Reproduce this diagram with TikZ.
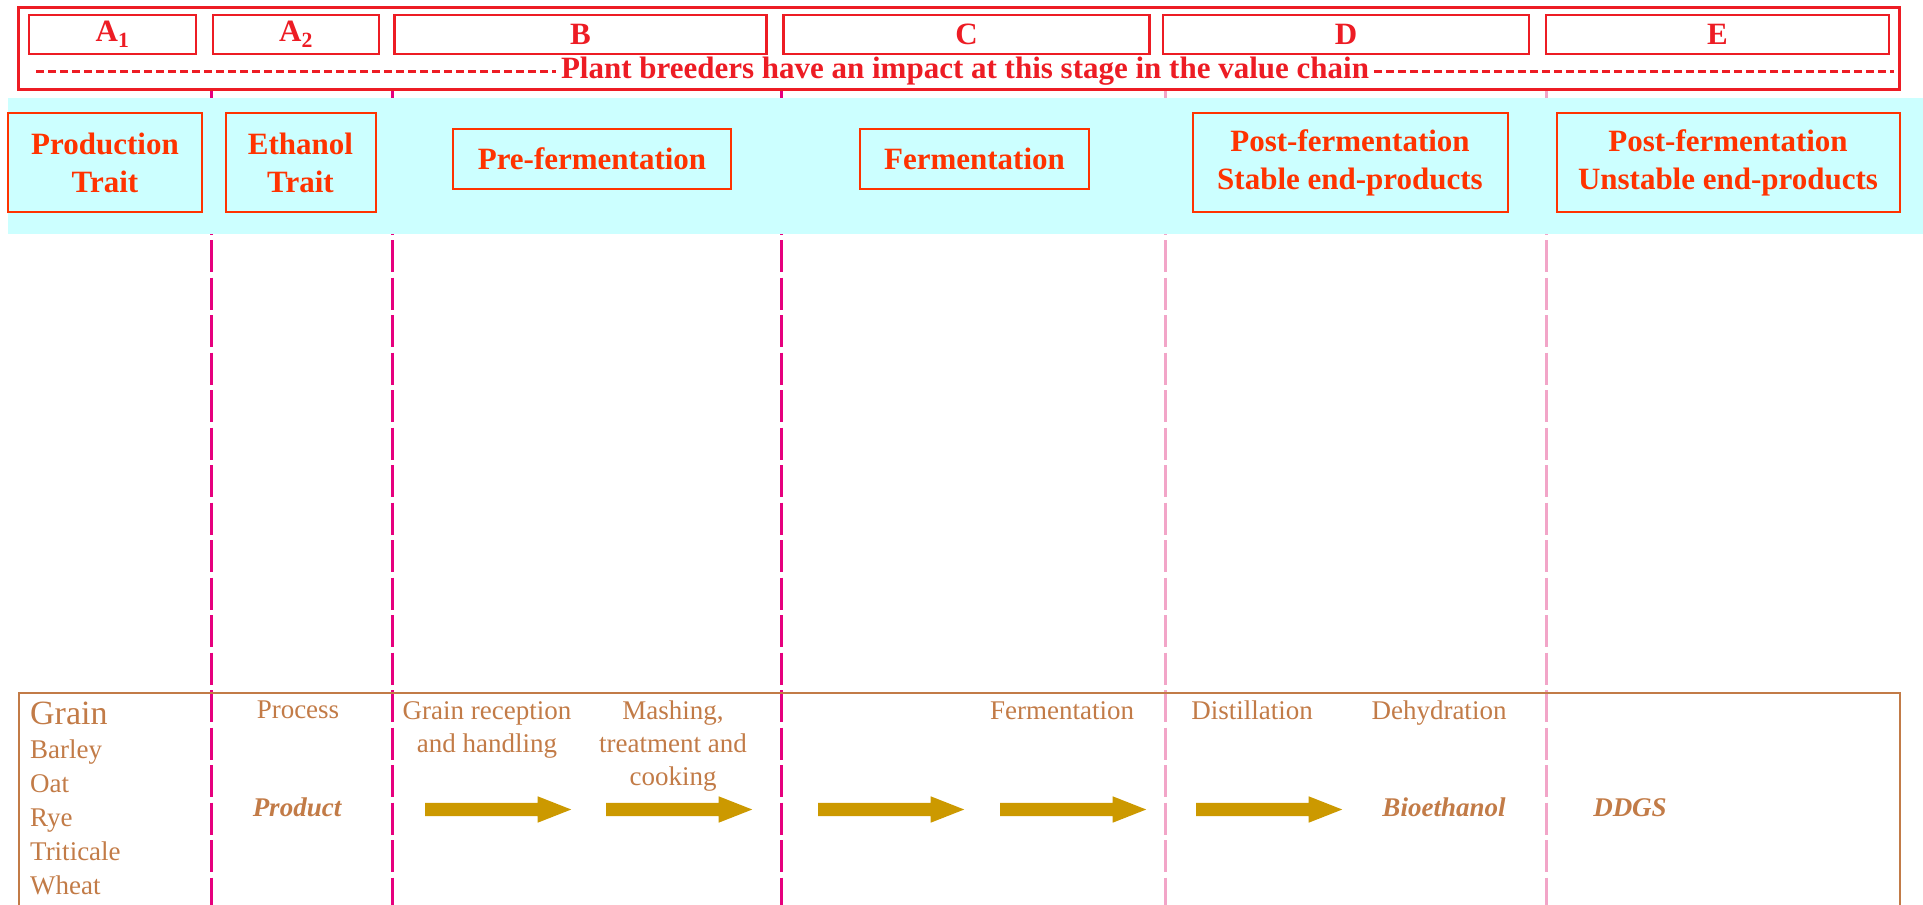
\documentclass[tikz,border=0pt]{standalone}
\usepackage{fontspec}
\setmainfont{Liberation Serif}
\usepackage{xcolor}
\usepackage{tikz}
\usetikzlibrary{shapes,shapes.arrows,arrows.meta,positioning,calc}
\definecolor{HeadRed}{HTML}{ED1C24}
\definecolor{StageRed}{HTML}{FF3300}
\definecolor{BandCyan}{HTML}{CCFFFF}
\definecolor{ChainMagenta}{HTML}{E6007E}
\definecolor{ChainPink}{HTML}{F2A5C8}
\definecolor{ProcBrown}{HTML}{C27B47}
\definecolor{FlowGold}{HTML}{CC9900}

\tikzset{
    letterbox/.style={draw=HeadRed,line width=2.5pt,text=HeadRed,inner sep=0pt,
      font=\fontsize{31}{36}\selectfont\bfseries,minimum height=39pt},
    stagebox/.style={draw=StageRed,line width=2pt,text=StageRed,align=center,inner sep=0pt,
      font=\fontsize{31}{38}\selectfont\bfseries},
    proctext/.style={text=ProcBrown,align=center,inner sep=0pt,anchor=north,
      font=\fontsize{27}{33}\selectfont},
    prodtext/.style={text=ProcBrown,inner sep=0pt,anchor=base,
      font=\fontsize{27}{33}\selectfont\bfseries\itshape},
    flowarrow/.style={single arrow,fill=FlowGold,inner xsep=0pt,inner ysep=6.5pt,anchor=tail,
      minimum height=146pt,single arrow head extend=6.5pt,single arrow tip angle=43},
    sepline/.style={line width=3pt,dash pattern=on 32pt off 5.5pt}
}

\begin{document}
\begin{tikzpicture}[x=1pt,y=-1pt]
    \useasboundingbox (0,0) rectangle (1923,905);
    % stage separators, the band hides them
    \foreach \xpos/\col in {211/ChainMagenta,392/ChainMagenta,781/ChainMagenta,1165/ChainPink,1546/ChainPink}
      \draw[sepline,\col] (\xpos,90) -- (\xpos,905);
    \fill[BandCyan] (8,98) rectangle (1923,234);

    % value chain header
    \draw[HeadRed,line width=3pt] (18,7.5) rectangle (1899,89.5);
    \node[letterbox,minimum width=167pt] (a1) at (112.5,34.5) {A\textsubscript{1}};
    \node[letterbox,minimum width=166pt] (a2) at (296,34.5) {A\textsubscript{2}};
    \node[letterbox,minimum width=372pt] (b) at (580.5,34.5) {B};
    \node[letterbox,minimum width=366pt] (c) at (966.5,34.5) {C};
    \node[letterbox,minimum width=366pt] (d) at (1346,34.5) {D};
    \node[letterbox,minimum width=343pt] (e) at (1717.5,34.5) {E};
    \node[font=\fontsize{31}{36}\selectfont\bfseries,text=HeadRed,inner sep=5pt] (impact) at (965,71)
      {Plant breeders have an impact at this stage in the value chain};
    \draw[HeadRed,line width=3pt,dash pattern=on 8pt off 4pt] (36,71) -- (impact.west);
    \draw[HeadRed,line width=3pt,dash pattern=on 8pt off 4pt] (impact.east) -- (1894,71);

    % stages
    \node[stagebox,minimum width=194pt,minimum height=99pt] (prodtrait) at (105,162.5) {Production\\Trait};
    \node[stagebox,minimum width=150pt,minimum height=99pt] (ethtrait) at (300.5,162.5) {Ethanol\\Trait};
    \node[stagebox,minimum width=278pt,minimum height=60pt] (preferm) at (592,159) {Pre-fermentation};
    \node[stagebox,minimum width=229pt,minimum height=60pt] (ferment) at (974.5,159) {Fermentation};
    \node[stagebox,minimum width=315pt,minimum height=99pt] (stable) at (1350,162.5) {Post-fermentation\\Stable end-products};
    \node[stagebox,minimum width=343pt,minimum height=99pt] (unstable) at (1728,162.5) {Post-fermentation\\Unstable end-products};

    % process chain
    \draw[ProcBrown,line width=2pt] (19,906) |- (1900,693) -- (1900,906);
    \node[proctext,align=left,anchor=north west,font=\fontsize{27}{34}\selectfont] (grains) at (30,702)
      {{\fontsize{34}{34}\selectfont Grain}\\Barley\\Oat\\Rye\\Triticale\\Wheat};
    \node[proctext] (process) at (298,701) {Process};
    \node[proctext] (reception) at (487,701) {Grain reception\\and handling};
    \node[proctext] (mashing) at (673,701) {Mashing,\\treatment and\\cooking};
    \node[proctext] (fermstep) at (1062,701) {Fermentation};
    \node[proctext] (distil) at (1252,701) {Distillation};
    \node[proctext] (dehyd) at (1439,701) {Dehydration};
    \node[prodtext] (product) at (297,816) {Product};
    \node[prodtext] (bioeth) at (1444,816) {Bioethanol};
    \node[prodtext] (ddgs) at (1630,816) {DDGS};
    \foreach \xpos [count=\i] in {425,606,818,1000,1196}
      \node[flowarrow] (flow\i) at (\xpos,809.5) {};
\end{tikzpicture}
\end{document}
